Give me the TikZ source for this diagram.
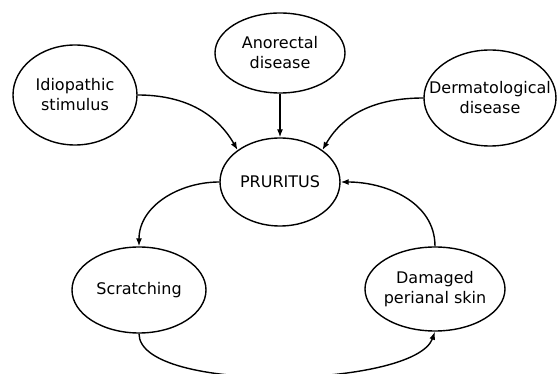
\documentclass[tikz,border=0pt]{standalone}
\usepackage{fontspec}
\setmainfont{DejaVu Sans}
\usetikzlibrary{shapes.geometric,arrows.meta}
\tikzset{
  bubble/.style={ellipse,draw,line width=1.4pt,inner sep=0pt},
  caption/.style={align=center,font=\fontsize{16}{20}\selectfont},
  link/.style={-{Latex[length=8pt,width=6pt]},line width=1.4pt}
}
\begin{document}
\begin{tikzpicture}[x=1pt,y=1pt]
  \useasboundingbox (0,0) rectangle (558,-374);

  % causes
  \node[bubble,minimum width=124pt,minimum height=100pt,
    label={[caption]center:{Idiopathic\\stimulus}}] (idio) at (75,-95) {};
  \node[bubble,minimum width=130pt,minimum height=80pt,
    label={[caption]center:{Anorectal\\disease}}] (anor) at (280,-53) {};
  \node[bubble,minimum width=132pt,minimum height=96pt,
    label={[caption]center:{Dermatological\\disease}}] (derm) at (490,-98) {};

  % itch cycle
  \node[bubble,minimum width=120pt,minimum height=88pt,
    label={[caption]center:PRURITUS}] (prur) at (280,-182) {};
  \node[bubble,minimum width=134pt,minimum height=86pt,
    label={[caption]center:Scratching}] (scratch) at (139,-290) {};
  \node[bubble,minimum width=140pt,minimum height=84pt,
    label={[caption]center:{Damaged\\perianal skin}}] (damaged) at (435,-289) {};

  \draw[link] (idio.east) to[out=0,in=120] (prur.143);
  \draw[link] (anor.south) -- (prur.north);
  \draw[link] (derm.west) to[out=180,in=60] (prur.37);
  \draw[link] (prur.west) to[out=180,in=90] (scratch.north);
  \draw[link] (scratch.south) to[out=-90,in=-110,looseness=0.52] (damaged.south);
  \draw[link] (damaged.north) to[out=90,in=0] (prur.east);
\end{tikzpicture}
\end{document}
